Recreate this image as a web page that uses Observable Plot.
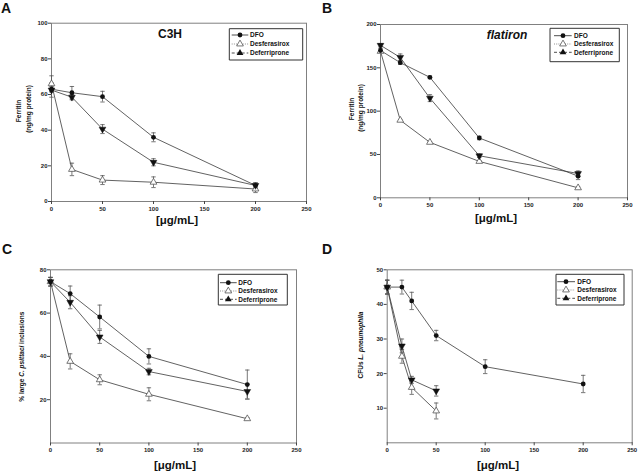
<!DOCTYPE html>
<html><head><meta charset="utf-8">
<script src="https://cdn.jsdelivr.net/npm/d3@7"></script>
<script src="https://cdn.jsdelivr.net/npm/@observablehq/plot@0.6"></script>
<style>
body{margin:0;background:#fff;}
#wrap{position:relative;width:640px;height:471px;overflow:hidden;background:#fff;}
#wrap svg{position:absolute;}
</style></head><body><div id="wrap"></div>
<script>
// ---------- data ----------
const seriesNames = ["DFO", "Desferasirox", "Deferriprone"];
const xTicks = [0, 50, 100, 150, 200, 250];

// Panel A: C3H ferritin
const doseA = [0, 20, 50, 100, 200];
const A_DFO = [63, 61, 58.8, 36, 9];
const A_DFO_err = [1.5, 3.5, 3, 2.5, 1.5];
const A_DFS = [66, 18, 12, 10.8, 7];
const A_DFS_err = [4.5, 3.5, 2.5, 3, 2];
const A_DFP = [62.5, 58.5, 40.6, 22, 9];
const A_DFP_err = [4, 1.5, 2.5, 2, 1.5];
const A_yTicks = [0, 20, 40, 60, 80, 100];

// Panel B: flatiron ferritin
const doseB = [0, 20, 50, 100, 200];
const B_DFO = [170, 156, 139, 69, 25];
const B_DFO_err = [2, 2, 1.5, 2, 4];
const B_DFS = [169, 89.5, 64, 42, 11.5];
const B_DFS_err = [1, 1, 1, 1, 1];
const B_DFP = [176, 162, 115, 48.5, 28];
const B_DFP_err = [2, 4, 4, 2, 3];
const B_yTicks = [0, 50, 100, 150, 200];

// Panel C: % large C. psittaci inclusions
const doseC = [0, 20, 50, 100, 200];
const C_DFO = [74.5, 69, 58.2, 40, 27];
const C_DFO_err = [2, 3.5, 5.5, 3.5, 6.7];
const C_DFS = [74.5, 37.7, 29.2, 22.5, 11.2];
const C_DFS_err = [2, 3.5, 2.3, 3, 0.5];
const C_DFP = [74.5, 65, 49, 33, 23.8];
const C_DFP_err = [2, 3, 3, 1.5, 3.5];
const C_yTicks = [20, 40, 60, 80];

// Panel D: CFUs L. pneumophila
const doseD_DFO = [0, 15, 25, 50, 100, 200];
const D_DFO = [45, 45, 41, 31, 22, 17];
const D_DFO_err = [2, 2, 2.5, 1.5, 2, 2.5];
const doseD = [0, 15, 25, 50];
const D_DFS = [45, 25, 16, 9.2];
const D_DFS_err = [2, 2, 2, 2.3];
const D_DFP = [45, 28, 18.2, 15];
const D_DFP_err = [2, 2, 1, 1.5];
const D_yTicks = [10, 20, 30, 40, 50];

// ---------- helpers ----------
const FONT = "Arial, 'Liberation Sans', Helvetica, sans-serif";
function rows(series, doses, vals, errs) {
  return doses.map((d, i) => ({series, dose: d, v: vals[i], e: errs[i]}));
}
const sqrt3 = Math.sqrt(3);
const cap = {draw(ctx) { ctx.moveTo(-2.2, 0); ctx.lineTo(2.2, 0); }};
const triDown = {draw(ctx, size) {
  const y = -Math.sqrt(size / (sqrt3 * 3));
  ctx.moveTo(0, -y * 2); ctx.lineTo(-sqrt3 * y, y); ctx.lineTo(sqrt3 * y, y); ctx.closePath();
}};

const panels = [
  {left: 0, top: 0, h: 235, ml: 51, mr: 14, mt: 22.7, mb: 34, ydom: [0, 100], yticks: A_yTicks,
   data: [...rows("DFO", doseA, A_DFO, A_DFO_err), ...rows("Desferasirox", doseA, A_DFS, A_DFS_err), ...rows("Deferriprone", doseA, A_DFP, A_DFP_err)],
   letter: ["A", 1, 13], title: {text: "C3H", x: 170, y: 38, italic: false},
   xlab: [177, 224], ylab: [{parts: [["Ferritin", false]], x: 20.5, y: 111}, {parts: [["(ng/mg protein)", false]], x: 30.5, y: 109}],
   legend: {x: 229.3, y: 28.7, w: 73.4, h: 31.3, rows: [35, 44, 53], sx1: 231.7, sx2: 248.3, mx: 240, tx: 250}},
  {left: 320, top: 0, h: 235, ml: 60, mr: 13, mt: 24, mb: 37.7, ydom: [0, 200], yticks: B_yTicks,
   data: [...rows("DFO", doseB, B_DFO, B_DFO_err), ...rows("Desferasirox", doseB, B_DFS, B_DFS_err), ...rows("Deferriprone", doseB, B_DFP, B_DFP_err)],
   letter: ["B", 2, 13], title: {text: "flatiron", x: 187, y: 39, italic: true},
   xlab: [176, 222], ylab: [{parts: [["Ferritin", false]], x: 34, y: 109}, {parts: [["(ng/mg protein)", false]], x: 42.5, y: 108}],
   legend: {x: 230, y: 28.3, w: 69.3, h: 33.4, rows: [35.7, 44, 52.3], sx1: 234, sx2: 251.7, mx: 243, tx: 254}},
  {left: 0, top: 235, h: 236, ml: 50, mr: 24, mt: 34.3, mb: 28.5, ydom: [0, 80], yticks: C_yTicks,
   data: [...rows("DFO", doseC, C_DFO, C_DFO_err), ...rows("Desferasirox", doseC, C_DFS, C_DFS_err), ...rows("Deferriprone", doseC, C_DFP, C_DFP_err)],
   letter: ["C", 2, 19], title: null,
   xlab: [175, 234], ylab: [{parts: [["% large ", false], ["C. psittaci", true], [" inclusions", false]], x: 24, y: 121.7}],
   legend: {x: 218.3, y: 39.3, w: 69, h: 30.7, rows: [47.7, 56, 64.3], sx1: 220, sx2: 236.7, mx: 228.3, tx: 238.3}},
  {left: 320, top: 235, h: 236, ml: 66.7, mr: 8.3, mt: 34.3, mb: 28.7, ydom: [0, 50], yticks: D_yTicks,
   data: [...rows("DFO", doseD_DFO, D_DFO, D_DFO_err), ...rows("Desferasirox", doseD, D_DFS, D_DFS_err), ...rows("Deferriprone", doseD, D_DFP, D_DFP_err)],
   letter: ["D", 2, 19], title: null,
   xlab: [178, 234], ylab: [{parts: [["CFUs ", false], ["L. pneumophila", true]], x: 42.5, y: 110}],
   legend: {x: 236, y: 39.3, w: 68, h: 30.7, rows: [46.7, 55, 63.3], sx1: 237.3, sx2: 255, mx: 246, tx: 257.3}}
];

const wrap = document.getElementById("wrap");
const lineColor = "#3a3a3a", errColor = "#555";

for (const p of panels) {
  const data = p.data;
  const svg = Plot.plot({
    width: 320, height: p.h,
    marginLeft: p.ml, marginRight: p.mr, marginTop: p.mt, marginBottom: p.mb,
    style: {fontFamily: FONT, fontSize: "6px", fontWeight: "bold", background: "white", color: "#222"},
    x: {domain: [0, 250], label: null},
    y: {domain: p.ydom, label: null},
    marks: [
      Plot.frame({stroke: "#808080", strokeWidth: 1}),
      Plot.axisX({ticks: xTicks, tickSize: 3, tickPadding: 2, label: null, stroke: "#444"}),
      Plot.axisY({ticks: p.yticks, tickSize: 3, tickPadding: 1, label: null, stroke: "#444"}),
      Plot.line(data, {x: "dose", y: "v", z: "series", stroke: lineColor, strokeWidth: 0.8}),
      Plot.ruleX(data, {x: "dose", y1: d => d.v - d.e, y2: d => d.v + d.e, stroke: errColor, strokeWidth: 0.8}),
      Plot.dot(data, {x: "dose", y: d => d.v + d.e, symbol: cap, fill: "none", stroke: errColor, strokeWidth: 0.8}),
      Plot.dot(data, {x: "dose", y: d => d.v - d.e, symbol: cap, fill: "none", stroke: errColor, strokeWidth: 0.8}),
      Plot.dot(data.filter(d => d.series === "Desferasirox"), {x: "dose", y: "v", symbol: "triangle", r: 2.5, fill: "white", stroke: "#555", strokeWidth: 0.8}),
      Plot.dot(data.filter(d => d.series === "Deferriprone"), {x: "dose", y: "v", symbol: triDown, r: 2.5, fill: "#111", stroke: "#111", strokeWidth: 0.5}),
      Plot.dot(data.filter(d => d.series === "DFO"), {x: "dose", y: "v", symbol: "circle", r: 2.4, fill: "#111", stroke: "none"})
    ]
  });
  svg.style.left = p.left + "px";
  svg.style.top = p.top + "px";
  wrap.appendChild(svg);

  const s = d3.select(svg);
  const g = s.append("g").attr("font-family", FONT).attr("font-weight", "bold")
    .attr("fill", "#111").attr("text-anchor", "start");
  // panel letter
  g.append("text").attr("x", p.letter[1]).attr("y", p.letter[2]).attr("font-size", 14)
    .attr("text-anchor", "start").text(p.letter[0]);
  // title
  if (p.title) {
    g.append("text").attr("x", p.title.x).attr("y", p.title.y).attr("text-anchor", "middle")
      .attr("font-size", 12).attr("font-style", p.title.italic ? "italic" : "normal").text(p.title.text);
  }
  // x label
  g.append("text").attr("x", p.xlab[0]).attr("y", p.xlab[1]).attr("text-anchor", "middle")
    .attr("font-size", 11.5).text("[\u03bcg/mL]");
  // y labels
  for (const yl of p.ylab) {
    const t = g.append("text").attr("transform", `translate(${yl.x},${yl.y}) rotate(-90)`)
      .attr("text-anchor", "middle").attr("font-size", 6.5);
    for (const [txt, it] of yl.parts) t.append("tspan").attr("font-style", it ? "italic" : "normal").text(txt);
  }
  // legend
  const L = p.legend;
  const lg = s.append("g").attr("font-family", FONT).attr("font-weight", "bold").attr("text-anchor", "start");
  lg.append("path")
    .attr("d", `M${L.x},${L.y}H${L.x + L.w}V${L.y + L.h}H${L.x}Z`)
    .attr("fill", "white").attr("stroke", "#333").attr("stroke-width", 1);
  const dashes = [null, "1,1.2", "3,2"];
  const syms = [d3.symbol(d3.symbolCircle, Math.PI * 2.4 * 2.4)(), d3.symbol(d3.symbolTriangle, Math.PI * 2.5 * 2.5)(), d3.symbol(d3.symbolTriangle, Math.PI * 2.5 * 2.5)()];
  seriesNames.forEach((name, i) => {
    const yy = L.rows[i];
    lg.append("line").attr("x1", L.sx1).attr("x2", L.sx2).attr("y1", yy).attr("y2", yy)
      .attr("stroke", i === 1 ? "#777" : "#222").attr("stroke-width", 0.8).attr("stroke-dasharray", dashes[i]);
    lg.append("path").attr("d", syms[i]).attr("transform", `translate(${L.mx},${yy})`)
      .attr("fill", i === 1 ? "white" : "#111").attr("stroke", i === 1 ? "#555" : "none").attr("stroke-width", 0.8);
    lg.append("text").attr("x", L.tx).attr("y", yy + 2.3).attr("font-size", 6.5)
      .attr("text-anchor", "start").attr("fill", "#111").text(name);
  });
}
</script></body></html>
